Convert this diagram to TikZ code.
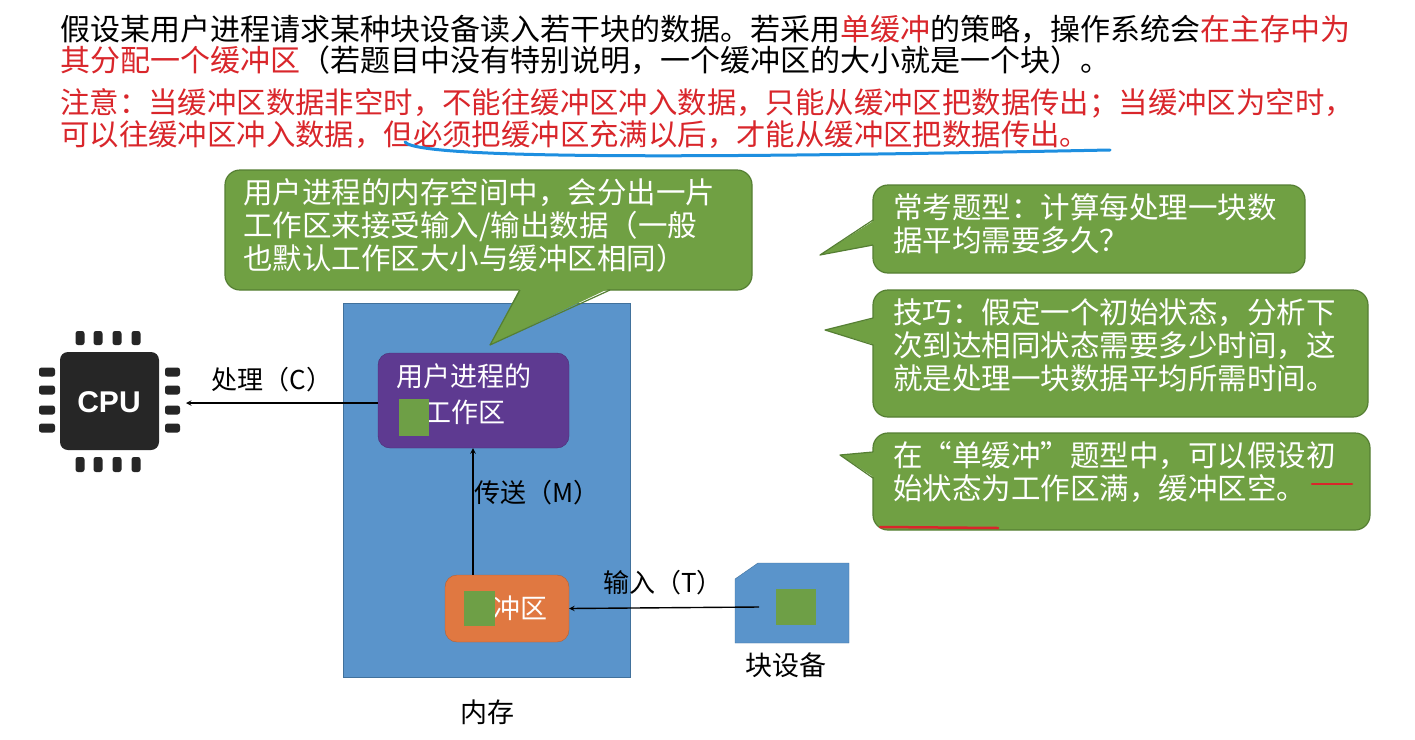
\documentclass[tikz,border=0pt]{standalone}
\usepackage{fontspec}
\setmainfont{Noto Sans CJK SC}
\newfontfamily\latinsans{Liberation Sans}
\definecolor{tred}{HTML}{D9262B}
\definecolor{cgreen}{HTML}{70A043}
\definecolor{cgreenb}{HTML}{557F33}
\definecolor{memblue}{HTML}{5A94CB}
\definecolor{memblueb}{HTML}{41719C}
\definecolor{purp}{HTML}{5E3A91}
\definecolor{orng}{HTML}{E07841}
\definecolor{sqgreen}{HTML}{6E9F46}
\definecolor{ulblue}{HTML}{1E8FE0}
\begin{document}
\begin{tikzpicture}[x=1pt,y=-1pt,
  toptext/.style={anchor=west,inner sep=0,font=\fontsize{30}{34}\selectfont},
  calltext/.style={anchor=north west,inner sep=0,align=left,text=white,font=\fontsize{29.5}{33}\selectfont},
  callbox/.style={fill=cgreen,draw=cgreenb,line width=1.2pt,rounded corners=15pt},
  lbl/.style={inner sep=0,font=\fontsize{26}{30}\selectfont},
  conn/.style={->,>=stealth,line width=1.4pt},
  pin/.style={fill=black!85,rounded corners=2.5pt},
  sq/.style={fill=sqgreen}]
\useasboundingbox (0,0) rectangle (1415,739);
\fill[white] (0,0) rectangle (1415,739);
% top text
\node[toptext] (t1) at (60,29) {假设某用户进程请求某种块设备读入若干块的数据。若采用\textcolor{tred}{单缓冲}的策略，操作系统会\textcolor{tred}{在主存中为}};
\node[toptext,text=tred] (t2) at (60,60) {其分配一个缓冲区\textcolor{black}{（若题目中没有特别说明，一个缓冲区的大小就是一个块）。}};
\node[toptext,text=tred,font=\fontsize{29.4}{34}\selectfont] (t3) at (60,103) {注意：当缓冲区数据非空时，不能往缓冲区冲入数据，只能从缓冲区把数据传出；当缓冲区为空时，};
\node[toptext,text=tred,font=\fontsize{29.4}{34}\selectfont] (t4) at (60,135) {可以往缓冲区冲入数据，但必须把缓冲区充满以后，才能从缓冲区把数据传出。};
\draw[ulblue,line width=3pt,line cap=round] (405,142) .. controls (420,162) and (800,156) .. (1110,150);
% memory
\fill[memblue,draw=memblueb] (343,303) rectangle (630,677);
\node[lbl,font=\fontsize{27}{30}\selectfont] (mem) at (487,712) {内存};
% callout 1
\draw[callbox] (225,170) rectangle (752,290);
\fill[cgreen] (520,288) -- (490,345) -- (610,288) -- cycle;
\draw[cgreenb,line width=1.2pt,line join=round] (520,290) -- (490,345) -- (610,290);
\node[calltext] (c1) at (243,178) {用户进程的内存空间中，会分出一片\\工作区来接受输入/输出数据（一般\\也默认工作区大小与缓冲区相同）};
% purple work area
\node[fill=purp,draw=purp!80!black,rounded corners=12pt,minimum width=191,minimum height=95,inner sep=0] (work) at (473.5,400.5) {};
\node[lbl,text=white,align=left,font=\fontsize{27}{36}\selectfont,anchor=north west] (worktxt) at (396,363) {用户进程的\\\hspace{1.05em}工作区};
\fill[sq] (399,399) rectangle (429,436);
% buffer
\node[fill=orng,draw=orng!80!black,rounded corners=12pt,minimum width=124,minimum height=67,inner sep=0] (buf) at (507,608.5) {};
\node[lbl,text=white,font=\fontsize{27}{30}\selectfont] (buftxt) at (507,608) {缓冲区};
\fill[sq] (464,591) rectangle (495,626);
% block device
\draw[fill=memblue,draw=memblueb] (758,563) -- (849,563) -- (849,643) -- (735,643) -- (735,579) -- cycle;
\coordinate (devout) at (759,607);
\fill[sq] (776,589) rectangle (816,625);
\node[lbl,font=\fontsize{27}{30}\selectfont] (dev) at (786,665) {块设备};
% CPU
\fill[black!85,rounded corners=8pt] (60,352) rectangle (159,450);
\node[text=white,font=\latinsans\bfseries\fontsize{30}{32}\selectfont] (cpu) at (109,402) {CPU};
\foreach \x in {80,98,117,136}{\fill[pin] (\x-4.5,331) rectangle (\x+4.5,345); \fill[pin] (\x-4.5,457) rectangle (\x+4.5,472);}
\foreach \y in {372,390,410,428}{\fill[pin] (39,\y-4.5) rectangle (55,\y+4.5); \fill[pin] (165,\y-4.5) rectangle (180,\y+4.5);}
\coordinate (cpuin) at (186,403);
% connectors
\draw[conn] (work.west |- 0,403) -- (cpuin);
\node[lbl] (lc) at (272,380) {处理（C）};
\draw[conn] (buf.north -| 473,0) -- (work.south -| 473,0);
\draw[conn] (devout) -- (buf.east);
\node[lbl,anchor=west] (lm) at (474,493) {传送（M）};
\node[lbl] (lt) at (663,583) {输入（T）};
% right callouts
\draw[callbox] (873,185) rectangle (1305,273);
\fill[cgreen] (875,220) -- (820,255) -- (875,245) -- cycle;
\draw[cgreenb,line width=1.2pt,line join=round] (873,220) -- (820,255) -- (873,245);
\node[calltext] (r1) at (893,193) {常考题型：计算每处理一块数\\据平均需要多久？};
\draw[callbox] (873,290) rectangle (1368,417);
\fill[cgreen] (875,318) -- (825,330) -- (875,345) -- cycle;
\draw[cgreenb,line width=1.2pt,line join=round] (873,318) -- (825,330) -- (873,345);
\node[calltext] (r2) at (893,298) {技巧：假定一个初始状态，分析下\\次到达相同状态需要多少时间，这\\就是处理一块数据平均所需时间。};
\draw[callbox] (873,433) rectangle (1370,530);
\fill[cgreen] (875,452) -- (840,455) -- (875,478) -- cycle;
\draw[cgreenb,line width=1.2pt,line join=round] (873,452) -- (840,455) -- (873,478);
\node[calltext] (r3) at (893,441) {在“单缓冲”题型中，可以假设初\\始状态为工作区满，缓冲区空。};
\draw[tred,line width=2.5pt,line cap=round] (1312,484) -- (1352,484);
\draw[tred,line width=2.5pt,line cap=round] (880,527) -- (998,528);
\end{tikzpicture}
\end{document}
